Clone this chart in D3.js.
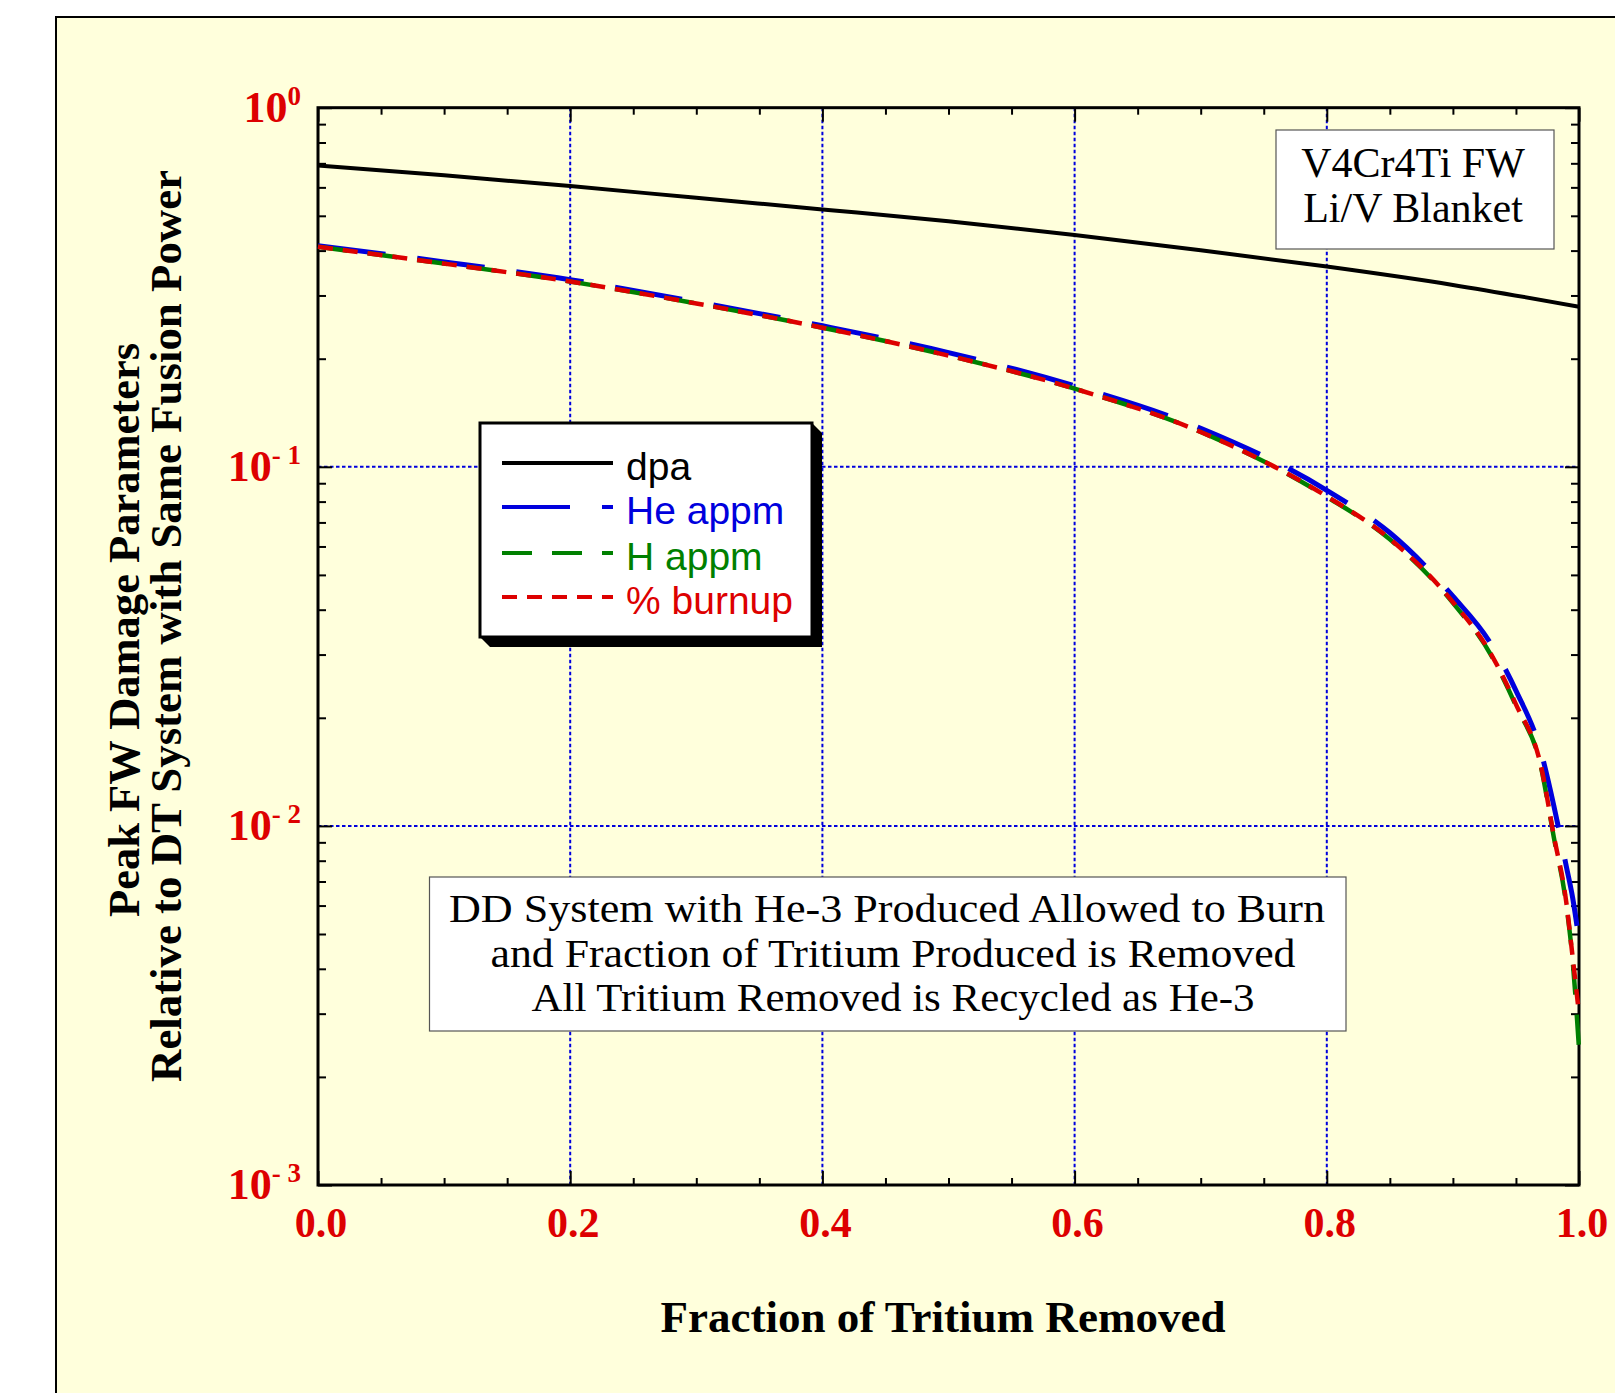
<!DOCTYPE html>
<html><head><meta charset="utf-8">
<script src="https://cdn.jsdelivr.net/npm/d3@7"></script>
<style>body{margin:0;background:#fff;} svg{display:block;}</style>
</head><body>
<svg id="chart" width="1615" height="1393"></svg>
<script>
// ---- data ----
const dpaFraction = [0, 0.1, 0.2, 0.3, 0.4, 0.5, 0.6, 0.7, 0.8, 0.9, 1.0];
const dpaValues   = [0.690, 0.648, 0.605, 0.561, 0.521, 0.483, 0.442, 0.401, 0.361, 0.321, 0.279];

const fraction     = [0, 0.1, 0.2, 0.3, 0.4, 0.5, 0.6, 0.7, 0.8, 0.85, 0.9, 0.93, 0.95, 0.97, 0.98, 0.99, 0.995, 1.0];
const heAppm       = [0.413, 0.372, 0.332, 0.288, 0.247, 0.208, 0.168, 0.128, 0.0860, 0.0655, 0.0436, 0.0322, 0.0238, 0.0160, 0.0114, 0.0077, 0.0063, 0.0048];
const hAppm        = [0.410, 0.368, 0.328, 0.285, 0.244, 0.204, 0.165, 0.125, 0.0825, 0.0628, 0.0418, 0.0300, 0.0216, 0.0145, 0.0093, 0.0060, 0.0042, 0.0024];
const burnup       = [0.410, 0.368, 0.328, 0.285, 0.244, 0.204, 0.165, 0.125, 0.0827, 0.0630, 0.0420, 0.0302, 0.0218, 0.0146, 0.0094, 0.0061, 0.0043, 0.0030];

const xTickValues  = [0, 0.2, 0.4, 0.6, 0.8, 1.0];
const xTickLabels  = ["0.0", "0.2", "0.4", "0.6", "0.8", "1.0"];
const yTickValues  = [1, 0.1, 0.01, 0.001];
const yTickBase    = ["10", "10", "10", "10"];
const yTickExp     = ["0", "- 1", "- 2", "- 3"];

const legendLabels = ["dpa", "He appm", "H appm", "% burnup"];
const seriesColors = ["#000000", "#0000dd", "#008000", "#dd0000"];
const seriesDash   = [null, "68,32", "30,20", "15,10"];
const seriesWidth  = [4, 5, 4.5, 4.5];

const xTitle = "Fraction of Tritium Removed";
const yTitle = ["Peak FW Damage Parameters", "Relative to DT System with Same Fusion Power"];
const topNote = ["V4Cr4Ti FW", "Li/V Blanket"];
const bottomNote = ["DD System with He-3 Produced Allowed to Burn",
                    "and Fraction of Tritium Produced is Removed",
                    "All Tritium Removed is Recycled as He-3"];

// ---- layout ----
const svg = d3.select("#chart");
const L = 318, R = 1579, T = 107.7, B = 1185;
const x = d3.scaleLinear().domain([0, 1]).range([L, R]);
const y = d3.scaleLog().domain([1e-3, 1]).range([B, T]);
const serif = "'Liberation Serif','Times New Roman',Times,serif";
const sans = "'Liberation Sans',Arial,Helvetica,sans-serif";
const tickRed = "#dd0000";
const gridBlue = "#0000dd";

// outer frame
svg.append("rect").attr("x", 56).attr("y", 17).attr("width", 1700).attr("height", 1500)
  .attr("fill", "#ffffdc").attr("stroke", "#000").attr("stroke-width", 2);

// gridlines
const grid = svg.append("g");
grid.selectAll("line.gx").data([0.2, 0.4, 0.6, 0.8]).join("line")
  .attr("x1", d => x(d)).attr("x2", d => x(d)).attr("y1", T).attr("y2", B)
  .attr("stroke", gridBlue).attr("stroke-width", 2).attr("stroke-dasharray", "3.5,2.5");
grid.selectAll("line.gy").data([0.1, 0.01]).join("line")
  .attr("y1", d => y(d)).attr("y2", d => y(d)).attr("x1", L).attr("x2", R)
  .attr("stroke", gridBlue).attr("stroke-width", 2).attr("stroke-dasharray", "3.5,2.5");

// axes with inside ticks (major + minor) on all four sides
const xMinor = d3.range(0, 1.0001, 0.05).filter(v => Math.abs(v * 5 - Math.round(v * 5)) > 1e-6);
const yMinor = [];
[1e-3, 1e-2, 1e-1].forEach(b => { for (let k = 2; k <= 9; k++) yMinor.push(b * k); });

function addAxis(axisGen, tx, ty) {
  const g = svg.append("g").attr("transform", `translate(${tx},${ty})`).call(axisGen);
  g.selectAll("text").remove();
  g.select(".domain").remove();
  g.selectAll(".tick line").attr("stroke", "#000").attr("stroke-width", 2);
  return g;
}
addAxis(d3.axisBottom(x).tickValues(xTickValues).tickSize(-14), 0, B);
addAxis(d3.axisBottom(x).tickValues(xMinor).tickSize(-7), 0, B);
addAxis(d3.axisTop(x).tickValues(xTickValues).tickSize(-14), 0, T);
addAxis(d3.axisTop(x).tickValues(xMinor).tickSize(-7), 0, T);
addAxis(d3.axisLeft(y).tickValues(yTickValues).tickSize(-14), L, 0);
addAxis(d3.axisLeft(y).tickValues(yMinor).tickSize(-8), L, 0);
addAxis(d3.axisRight(y).tickValues(yTickValues).tickSize(-14), R, 0);
addAxis(d3.axisRight(y).tickValues(yMinor).tickSize(-8), R, 0);

svg.append("rect").attr("x", L).attr("y", T).attr("width", R - L).attr("height", B - T)
  .attr("fill", "none").attr("stroke", "#000").attr("stroke-width", 3);

// curves
const smoothGen = d3.line().x(d => x(d[0])).y(d => y(d[1])).curve(d3.curveMonotoneX);
const seriesData = [
  dpaFraction.map((f, i) => [f, dpaValues[i]]),
  fraction.map((f, i) => [f, heAppm[i]]),
  fraction.map((f, i) => [f, hAppm[i]]),
  fraction.map((f, i) => [f, burnup[i]])
];
const curves = svg.append("g");
[1, 2, 3, 0].forEach(i => {
  curves.append("path").attr("d", smoothGen(seriesData[i]))
    .attr("fill", "none").attr("stroke", seriesColors[i]).attr("stroke-width", seriesWidth[i])
    .attr("stroke-dasharray", seriesDash[i]).attr("stroke-linecap", "butt").attr("stroke-linejoin", "round");
});

// x tick labels
svg.append("g").selectAll("text").data(xTickValues).join("text")
  .attr("x", d => x(d) + 3).attr("y", 1237).attr("text-anchor", "middle")
  .attr("font-family", serif).attr("font-weight", "bold").attr("font-size", 42)
  .attr("fill", tickRed).text((d, i) => xTickLabels[i]);

// y tick labels
const yl = svg.append("g").selectAll("text").data(yTickValues).join("text")
  .attr("x", 301).attr("y", d => y(d) + 14).attr("text-anchor", "end")
  .attr("font-family", serif).attr("font-weight", "bold").attr("fill", tickRed);
yl.append("tspan").attr("font-size", 44).text((d, i) => yTickBase[i]);
yl.append("tspan").attr("font-size", 27).attr("dy", -17).attr("xml:space", "preserve").text((d, i) => yTickExp[i]);

// axis titles
svg.append("text").attr("x", 943).attr("y", 1332).attr("text-anchor", "middle")
  .attr("font-family", serif).attr("font-weight", "bold").attr("font-size", 45).attr("fill", "#000")
  .attr("textLength", 565).attr("lengthAdjust", "spacingAndGlyphs").text(xTitle);
yTitle.forEach((t, i) => {
  const bx = [139, 181][i];
  svg.append("text").attr("transform", `translate(${bx},${[630, 626][i]}) rotate(-90)`).attr("text-anchor", "middle")
    .attr("font-family", serif).attr("font-weight", "bold").attr("font-size", 45).attr("fill", "#000")
    .attr("textLength", [574, 912][i]).attr("lengthAdjust", "spacingAndGlyphs").text(t);
});

// top-right note box
svg.append("rect").attr("x", 1276).attr("y", 130).attr("width", 278).attr("height", 119)
  .attr("fill", "#fff").attr("stroke", "#555").attr("stroke-width", 1.2);
topNote.forEach((t, i) => {
  svg.append("text").attr("x", 1413).attr("y", [177, 222][i]).attr("text-anchor", "middle")
    .attr("font-family", serif).attr("font-size", 42).attr("fill", "#000").text(t);
});

// bottom note box
svg.append("rect").attr("x", 429.5).attr("y", 877).attr("width", 916.5).attr("height", 154)
  .attr("fill", "#fff").attr("stroke", "#555").attr("stroke-width", 1.2);
bottomNote.forEach((t, i) => {
  svg.append("text").attr("x", [887, 893, 893][i]).attr("y", [922, 967, 1011][i]).attr("text-anchor", "middle")
    .attr("font-family", serif).attr("font-size", 40).attr("fill", "#000")
    .attr("textLength", [876, 805, 723][i]).attr("lengthAdjust", "spacingAndGlyphs").text(t);
});

// legend
const lx0 = 480, ly0 = 423, lx1 = 812, ly1 = 637, sh = 10;
svg.append("polygon")
  .attr("points", `${lx1},${ly0} ${lx1 + sh},${ly0 + sh} ${lx1 + sh},${ly1 + sh} ${lx0 + sh},${ly1 + sh} ${lx0},${ly1}`)
  .attr("fill", "#000");
svg.append("rect").attr("x", lx0).attr("y", ly0).attr("width", lx1 - lx0).attr("height", ly1 - ly0)
  .attr("fill", "#fff").attr("stroke", "#000").attr("stroke-width", 3);
const rowY = [463, 507, 553, 597];
legendLabels.forEach((lab, i) => {
  svg.append("line").attr("x1", 502).attr("x2", 613).attr("y1", rowY[i]).attr("y2", rowY[i])
    .attr("stroke", seriesColors[i]).attr("stroke-width", 4).attr("stroke-dasharray", seriesDash[i]);
  svg.append("text").attr("x", 626).attr("y", rowY[i] + 17).attr("font-family", sans).attr("font-size", 39)
    .attr("fill", seriesColors[i]).text(lab);
});
</script>
</body></html>
